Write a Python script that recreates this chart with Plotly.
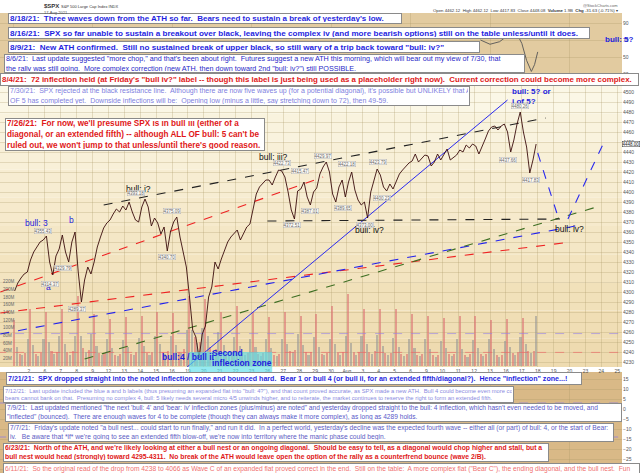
import plotly.graph_objects as go

### data (SPX, hourly-ish, Jul 1 - Aug 17 2021)
day_labels = ["", "2", "6", "7", "8", "9", "12", "13", "14", "15", "16", "19", "20", "21",
              "22", "23", "26", "27", "28", "29", "30", "Aug", "3", "4", "5", "6", "9", "10",
              "11", "12", "13", "16", "17", "18", "19", "20", "23", "24", "25"]

# five prices per session
spx = [
    [4301, 4309, 4314, 4318, 4320],  # Jul 1
    [4332, 4340, 4345, 4350, 4352],
    [4356, 4330, 4317, 4336, 4343],
    [4357, 4340, 4330, 4350, 4360],
    [4320, 4290, 4312, 4325, 4318],
    [4330, 4345, 4355, 4364, 4369],
    [4372, 4378, 4383, 4380, 4386],
    [4382, 4390, 4380, 4372, 4370],
    [4385, 4393, 4385, 4366, 4374],
    [4369, 4358, 4365, 4341, 4360],
    [4370, 4375, 4355, 4340, 4325],
    [4295, 4262, 4255, 4234, 4258],  # Jul 19
    [4266, 4295, 4305, 4330, 4323],
    [4333, 4342, 4350, 4355, 4359],
    [4362, 4352, 4358, 4365, 4368],
    [4382, 4398, 4405, 4408, 4412],
    [4412, 4407, 4415, 4422, 4421],
    [4415, 4400, 4382, 4373, 4401],
    [4403, 4410, 4395, 4387, 4400],
    [4404, 4418, 4425, 4430, 4420],
    [4398, 4390, 4405, 4412, 4395],
    [4410, 4420, 4402, 4392, 4387],  # Aug 2
    [4390, 4374, 4400, 4412, 4423],
    [4417, 4405, 4401, 4408, 4403],
    [4410, 4418, 4422, 4426, 4429],
    [4431, 4438, 4430, 4433, 4437],
    [4436, 4426, 4430, 4438, 4432],
    [4438, 4443, 4432, 4435, 4437],
    [4442, 4440, 4447, 4444, 4448],
    [4446, 4438, 4445, 4453, 4461],
    [4465, 4466, 4462, 4466, 4468],
    [4460, 4440, 4452, 4468, 4480],  # Aug 16
    [4460, 4445, 4419, 4432, 4448],  # Aug 17
]
intraday_pos = [0.1, 0.3, 0.5, 0.7, 0.9]

# volume, millions, six bars per session
volume = [
    [120, 50, 32, 28, 35, 70], [150, 55, 33, 27, 34, 72], [142, 62, 40, 32, 38, 80],
    [150, 58, 36, 30, 40, 78], [184, 80, 48, 36, 42, 85], [135, 52, 34, 28, 34, 70],
    [124, 48, 30, 26, 32, 68], [128, 50, 32, 28, 36, 74], [132, 52, 34, 30, 38, 78],
    [140, 58, 38, 32, 40, 80], [138, 55, 36, 34, 46, 95], [183, 95, 75, 60, 62, 100],
    [175, 80, 50, 40, 45, 90], [140, 55, 36, 30, 36, 75], [158, 52, 34, 28, 34, 72],
    [140, 50, 32, 27, 34, 70], [128, 48, 30, 26, 32, 72], [140, 58, 40, 36, 42, 85],
    [130, 54, 36, 30, 36, 75], [137, 50, 32, 28, 34, 72], [158, 58, 36, 30, 36, 80],
    [188, 60, 36, 30, 36, 78], [150, 58, 38, 32, 40, 82], [150, 52, 34, 28, 34, 74],
    [150, 50, 32, 27, 33, 72], [137, 48, 30, 26, 32, 70], [132, 46, 30, 25, 30, 66],
    [125, 48, 31, 26, 32, 70], [130, 46, 30, 25, 31, 68], [130, 48, 31, 26, 32, 70],
    [120, 44, 28, 24, 29, 66], [123, 50, 34, 30, 36, 76], [125, 58, 40, 34, 40, 130],
]
vol_avg_hi = 85
vol_avg_lo = 36

# upper indicator, only the part not hidden by the notes
ind_t = [29.4, 30.0, 30.6, 31.1, 31.7, 32.0, 32.3, 32.6, 32.8, 33.0]
ind_v = [70, 65, 68, 75, 77, 66, 46, 33, 41, 56]
lower_lines = [3, -14]

# drawn lines: (day, price) end points
black_upper = ([5.7, 33.5], [4387, 4474])
red_upper = ([-0.8, 19.5], [4300, 4415])
red_lower = ([-0.8, 35.1], [4279, 4350])
blue_lower = ([-0.8, 35.7], [4258, 4367])
green_line = ([4.5, 36.7], [4233, 4385])
blue_steep = ([10.5, 31.1], [4219, 4492])
black_flat = ([16.0, 34.4], [4371, 4373])
blue_path = ([33.0, 34.3, None, 34.9, 37.2], [4439, 4374, None, 4373, 4451])

# price tags (day, value, above/below)
tags = [(1.9, 4355.43, 1), (2.3, 4314.37, -1), (3.15, 4329.79, -1), (4.05, 4289.37, -1),
        (7.75, 4393.18, 1), (9.7, 4340.70, -1), (10.0, 4375.09, 1), (16.9, 4422.73, 1),
        (17.55, 4372.51, -1), (18.05, 4415.47, 1), (18.7, 4387.01, -1), (19.5, 4429.97, 1),
        (20.76, 4389.65, -1), (21.0, 4422.18, 1), (22.15, 4373.00, -1), (22.95, 4423.79, 1),
        (23.2, 4400.23, -1), (31.1, 4437.66, -1), (31.9, 4480.26, 1), (32.6, 4417.83, -1)]

# wave labels (day, price, text, colour)
waves = [(1.45, 4369, "bull: 3", "#1f1fdf"), (3.65, 4372, "b", "#1f1fdf"), (2.2, 4305, "a", "#1f1fdf"),
         (7.86, 4403, "bull: i?", "#111"), (16.35, 4435, "bull: iii?", "#111"),
         (22.45, 4362, "bull: iv?", "#111"), (34.97, 4363, "bull: iv?", "#111")]

# notes: (x px, y px, w, h, text, colour, size, bold)
BLUE = "#1f1fdf"
RED = "#e01818"
notes = [
    (8, 13, 394, 11, "8/18/21:  Three waves down from the ATH so far.  Bears need to sustain a break of yesterday's low.", BLUE, 8.0, True),
    (8, 27, 582, 12, "8/16/21:  SPX so far unable to sustain a breakout over black, leaving the complex iv (and more bearish options) still on the table unless/until it does.", BLUE, 8.1, True),
    (8, 41, 472, 12, "8/9/21:  New ATH confirmed.  Still no sustained break of upper black, so still wary of a trip back toward \"bull: iv?\"", BLUE, 8.1, True),
    (4, 54, 521, 19, "8/6/21:  Last update suggested \"more chop,\" and that's been about right.  Futures suggest a new ATH this morning, which will bear out my view of 7/30, that<br>the rally was still going.  More complex correction (new ATH, then down toward 2nd \"bull: iv?\") still POSSIBLE.", "#2828c8", 7.2, False),
    (0, 73, 639, 13, "8/4/21:  72 inflection held (at Friday's \"bull iv?\" label -- though this label is just being used as a placeholder right now).  Current correction could become more complex.", RED, 7.9, True),
    (8, 86, 462, 20, "7/30/21:  SPX rejected at the black resistance line.  Although there are now five waves up (for a potential diagonal), it's possible but UNLIKELY that ALL<br>OF 5 has completed yet.  Downside inflections will be:  Opening low (minus a little, say stretching down to 72), then 49-59.", "#8080e0", 7.0, False),
    (5, 118, 260, 33, "7/26/21:  For now, we'll presume SPX is in bull iii (either of a<br>diagonal, or an extended fifth) -- although ALL OF bull: 5 can't be<br>ruled out, we won't jump to that unless/until there's good reason.", RED, 8.2, True),
    (6, 372, 576, 13, "7/21/21:  SPX dropped straight into the noted inflection zone and bounced hard.  Bear 1 or bull 4 (or bull ii, for an extended fifth/diagonal?).  Hence \"inflection\" zone...!", BLUE, 7.1, True),
    (3, 386, 511, 17, "7/12/21:  Last update included the blue a and b labels (thus presuming an expanded flat into \"bull: 4?\"), and that count proved accurate, as SPX made a new ATH.  Bull 4 could become even more complex if it wants, but<br>bears cannot bank on that.  Presuming no complex 4, bull: 5 likely needs several micro 4/5 unwinds higher, and to reiterate, the market continues to reserve the right to form an extended fifth.", "#8a8ae0", 5.8, False),
    (5, 403, 617, 19, "7/9/21:  Last updated mentioned \"the next 'bull: 4' and 'bear: iv' inflection zones (plus/minus) are noted\" and yesterday dropped straight to the bull: 4 inflection, which hasn't even needed to be moved, and<br>\"inflected\" (bounced).  There are enough waves for 4 to be complete (though they can always make it more complex), as long as 4289 holds.", "#5858c8", 6.6, False),
    (8, 423, 606, 19, "7/7/21:  Friday's update noted \"a bull nest... could start to run finally,\" and run it did.  In a perfect world, yesterday's decline was the expected fourth wave -- either all (or part) of bull: 4, or the start of Bear:<br>iv.   Be aware that *if* we're going to see an extended fifth blow-off, we're now into territory where the manic phase could begin.", "#5c5cc4", 6.7, False),
    (3, 443, 546, 19, "6/23/21:  North of the ATH, and we're likely looking at either a bull nest or an ongoing diagonal.  Should be easy to tell, as a diagonal would chop higher and stall, but a<br>bull nest would head (strongly) toward 4295-4311.  No break of the ATH would leave open the option of the rally as a counterfrend bounce (wave 2/B).", RED, 6.8, True),
    (3, 463, 637, 12, "6/11/21:  So the original read of the drop from 4238 to 4066 as Wave C of an expanded flat proved correct in the end.  Still on the table:  A more complex flat (\"Bear C\"), the ending diagonal, and the bull nest.  Fun", "#f07070", 6.7, False),
]

### layout helpers
W, H = 640, 473
FONT = "Liberation Sans, Arial, sans-serif"
XR = 622 / W


def py(y):
    return 1 - y / H


### plotting
n_days = len(spx)
price_x = [d + f for d in range(n_days) for f in intraday_pos]
price_y = [p for day in spx for p in day]
vol_x = [d + (j + 0.5) / 6 for d in range(n_days) for j in range(6)]
vol_y = [v for day in volume for v in day]
vol_col = ["rgba(220,115,115,0.62)" if j % 2 == 0 else "rgba(150,150,150,0.6)" for j in range(len(vol_y))]

fig = go.Figure()

fig.add_trace(go.Bar(x=vol_x, y=vol_y, width=0.13, marker=dict(color=vol_col, line_width=0),
                     xaxis="x", yaxis="y"))
for lvl, col in [(vol_avg_hi, "rgba(150,130,230,0.8)"), (vol_avg_lo, "rgba(240,100,100,0.8)")]:
    fig.add_trace(go.Scatter(x=[-1, 39], y=[lvl, lvl], mode="lines",
                             line=dict(color=col, width=0.8, dash="dash"), xaxis="x", yaxis="y"))

for (lx, ly), col, dash, wd in [
    (black_upper, "#222", "dash", 1.1), (red_upper, "#ee2222", "dash", 1.1),
    (red_lower, "#ee2222", "dash", 1.1), (blue_lower, "#2222ee", "dash", 1.1),
    (green_line, "#3d6e22", "dash", 1.1), (blue_steep, "#2a2aee", "solid", 1.0),
    (black_flat, "#222", "dash", 1.1), (blue_path, "#2a2aee", "dash", 1.1)]:
    fig.add_trace(go.Scatter(x=lx, y=ly, mode="lines", line=dict(color=col, width=wd, dash=dash),
                             xaxis="x", yaxis="y2", connectgaps=False))

fig.add_trace(go.Scatter(x=price_x, y=price_y, mode="lines", line=dict(color="#3a0c0c", width=0.9),
                         xaxis="x", yaxis="y2"))

fig.add_trace(go.Scatter(x=ind_t, y=ind_v, mode="lines", line=dict(color="#555", width=0.9),
                         xaxis="x2", yaxis="y3"))
for lvl in lower_lines:
    fig.add_trace(go.Scatter(x=[-1, 39], y=[lvl, lvl], mode="lines",
                             line=dict(color="rgba(140,120,230,0.9)", width=0.8, dash="dash"),
                             xaxis="x3", yaxis="y4"))

### backgrounds
shapes = []
top_px, bot_px = 85, 367
grad = ["#fbf7e6", "#f9f3de", "#f8f0d8", "#f7edd2", "#f6eacc", "#f4e7c6", "#f3e4c0", "#f1e1ba", "#f0deb5", "#eedbb0"]
step = (bot_px - top_px) / len(grad)
for i, c in enumerate(grad):
    shapes.append(dict(type="rect", xref="paper", yref="paper", x0=0, x1=XR,
                       y0=py(top_px + (i + 1) * step), y1=py(top_px + i * step),
                       fillcolor=c, line_width=0, layer="below"))
shapes.append(dict(type="rect", xref="paper", yref="paper", x0=0, x1=XR, y0=py(83), y1=py(13),
                   fillcolor="#e2cba0", line_width=0, layer="below"))
shapes.append(dict(type="rect", xref="paper", yref="paper", x0=0, x1=XR, y0=0, y1=py(372),
                   fillcolor="#d9b987", line_width=0, layer="below"))
# cyan inflection zone
shapes.append(dict(type="rect", xref="x", yref="paper", x0=11.07, x1=16.3, y0=py(380), y1=py(352),
                   fillcolor="rgba(90,222,235,0.65)", line_width=0, layer="above"))

### annotations
ann = []
for x0, y0, w, h, txt, col, sz, bold in notes:
    ann.append(dict(xref="paper", yref="paper", x=x0 / W, y=py(y0), xanchor="left", yanchor="top",
                    width=w - 4, height=h - 4, align="left", valign="middle", showarrow=False,
                    text=f"<b>{txt}</b>" if bold else txt,
                    font=dict(family=FONT, size=sz, color=col),
                    bgcolor="white", bordercolor="#8a8a8a", borderwidth=1, borderpad=1))

for k, p, txt, col in waves:
    ann.append(dict(xref="x", yref="y2", x=k, y=p, text=txt, showarrow=False,
                    font=dict(family=FONT, size=8.5, color=col)))
ann.append(dict(xref="x", yref="y2", x=31.26, y=4501, text="<b>bull: 5? or</b>", xanchor="left",
                showarrow=False, font=dict(family=FONT, size=8, color=BLUE)))
ann.append(dict(xref="x", yref="y2", x=31.26, y=4491, text="<b>i of 5?</b>", xanchor="left",
                showarrow=False, font=dict(family=FONT, size=8, color=BLUE)))
ann.append(dict(xref="paper", yref="paper", x=619 / W, y=py(33), text="<b>bull: 5?</b>", xanchor="center",
                showarrow=False, font=dict(family=FONT, size=8, color=BLUE)))
ann.append(dict(xref="paper", yref="paper", x=160 / W, y=py(364), text="<b>bull:4 / bull ii</b>",
                xanchor="left", showarrow=False, font=dict(family=FONT, size=8.5, color=BLUE)))
ann.append(dict(xref="paper", yref="paper", x=210 / W, y=py(360), text="<b>Second</b>",
                xanchor="left", showarrow=False, font=dict(family=FONT, size=8.5, color=BLUE)))
ann.append(dict(xref="paper", yref="paper", x=210 / W, y=py(370), text="<b>inflection zone</b>",
                xanchor="left", showarrow=False, font=dict(family=FONT, size=8.5, color=BLUE)))

for k, v, side in tags:
    ann.append(dict(xref="x", yref="y2", x=k, y=v, text=f"{v:.2f}", showarrow=False, yshift=6 * side,
                    font=dict(family=FONT, size=4.5, color="#666"), bgcolor="rgba(255,255,255,0.8)",
                    bordercolor="#b0b0b0", borderwidth=0.5, borderpad=0))

# current value box on the right axis
ann.append(dict(xref="paper", yref="y2", x=XR, y=spx[-1][-1], text=f"{spx[-1][-1]:.2f}", xanchor="left",
                showarrow=False, font=dict(family=FONT, size=4.5, color="#222"), bgcolor="white",
                bordercolor="#333", borderwidth=0.5, borderpad=0))

# header
ann += [
    dict(xref="paper", yref="paper", x=42 / W, y=py(1), xanchor="left", yanchor="top", showarrow=False,
         text="<b>$SPX</b> <span style='font-size:4px'>S&P 500 Large Cap Index INDX</span>",
         font=dict(family=FONT, size=6, color="#333")),
    dict(xref="paper", yref="paper", x=42 / W, y=py(8), xanchor="left", yanchor="top", showarrow=False,
         text="17-Aug-2021", font=dict(family=FONT, size=4, color="#555")),
    dict(xref="paper", yref="paper", x=620 / W, y=py(1), xanchor="right", yanchor="top", showarrow=False,
         text="@StockCharts.com", font=dict(family=FONT, size=4, color="#666")),
    dict(xref="paper", yref="paper", x=620 / W, y=py(6), xanchor="right", yanchor="top", showarrow=False,
         text="Open 4462.12  High 4462.12  Low 4417.83  Close 4448.08  <b>Volume</b> 1.9B  <b>Chg</b> -31.63 (-0.71%) \u25be",
         font=dict(family=FONT, size=4.3, color="#333")),
]

grid = "rgba(170,150,100,0.28)"
tick_font = dict(family=FONT, size=5, color="#555")

fig.update_layout(
    width=W, height=H, margin=dict(l=0, r=0, t=0, b=0),
    paper_bgcolor="white", plot_bgcolor="rgba(0,0,0,0)", showlegend=False,
    bargap=0, shapes=shapes, annotations=ann,
    xaxis=dict(domain=[0, XR], range=[-0.82, 38.3], tickvals=list(range(len(day_labels))),
               ticktext=day_labels, tickfont=tick_font, showgrid=True, gridcolor=grid,
               zeroline=False, showline=False, ticks="", anchor="y"),
    yaxis=dict(domain=[py(367), py(85)], range=[-2, 732], side="left",
               tickvals=list(range(20, 240, 20)), ticktext=[f"{v}M" for v in range(20, 240, 20)],
               ticklabelposition="inside", tickfont=dict(family=FONT, size=4.5, color="#666"),
               showgrid=False, zeroline=False),
    yaxis2=dict(overlaying="y", side="right", range=[4225, 4507],
                tickvals=list(range(4230, 4510, 10)), tickfont=tick_font,
                showgrid=True, gridcolor=grid, zeroline=False, anchor="x"),
    xaxis2=dict(domain=[0, XR], matches="x", anchor="y3", showticklabels=False,
                showgrid=True, gridcolor=grid, zeroline=False),
    yaxis3=dict(domain=[py(83), py(13)], range=[19.4, 101.8], side="right", anchor="x2",
                tickvals=[30, 50, 70, 90], tickfont=tick_font, showgrid=True, gridcolor=grid,
                zeroline=False),
    xaxis3=dict(domain=[0, XR], matches="x", anchor="y4", showticklabels=False,
                showgrid=True, gridcolor=grid, zeroline=False),
    yaxis4=dict(domain=[0, py(372)], range=[-32, 18.5], side="right", anchor="x3",
                tickvals=list(range(-30, 20, 5)), tickfont=tick_font, showgrid=True, gridcolor=grid,
                zeroline=False),
)

### saving figure (page margin removed so the figure sits at the window corner)
fig.write_html("out.html", config={"displayModeBar": False},
               post_script="document.body.style.margin='0px';")
